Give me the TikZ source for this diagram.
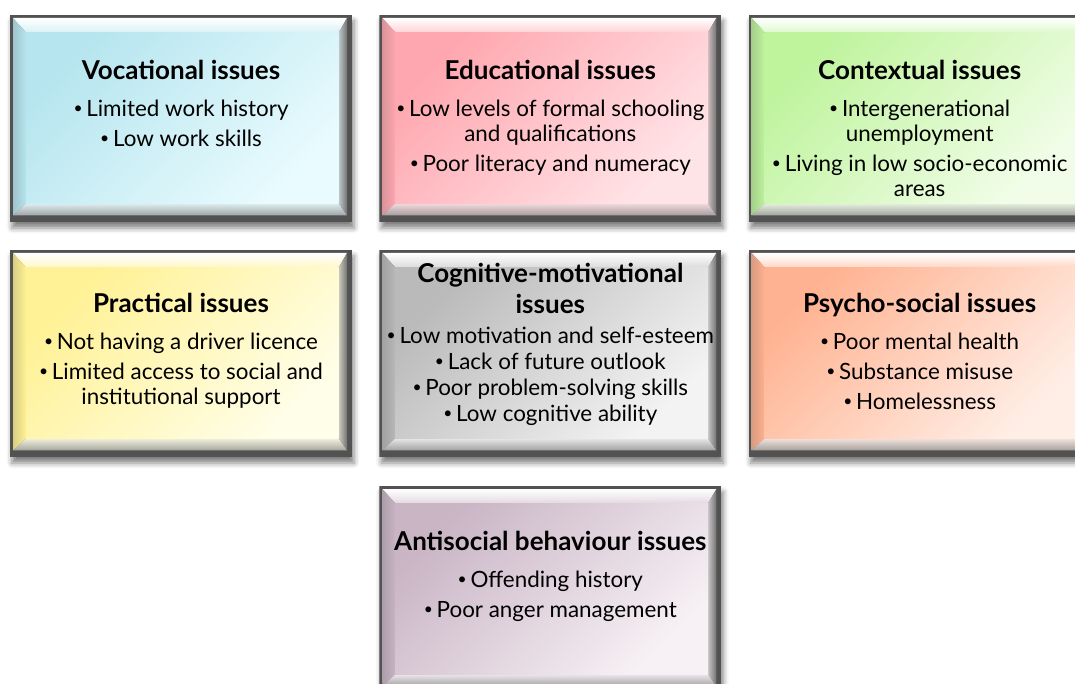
\documentclass[tikz,border=0pt]{standalone}
\usepackage{fontspec}
\usepackage{graphicx}
\setmainfont{Lato}
\usetikzlibrary{positioning, calc, shadows.blur}

% face colours: top-left (A) and bottom-right (B)
\definecolor{vocA}{HTML}{ADE1EC}
\definecolor{vocB}{HTML}{E9FBFE}
\definecolor{eduA}{HTML}{FF9CA6}
\definecolor{eduB}{HTML}{FFE4E7}
\definecolor{conA}{HTML}{B6F290}
\definecolor{conB}{HTML}{F1FDE8}
\definecolor{praA}{HTML}{FFEF86}
\definecolor{praB}{HTML}{FFFEE8}
\definecolor{cogA}{HTML}{B0B0B0}
\definecolor{cogB}{HTML}{F3F3F3}
\definecolor{psyA}{HTML}{FFA882}
\definecolor{psyB}{HTML}{FFEEE6}
\definecolor{antA}{HTML}{C2ABBD}
\definecolor{antB}{HTML}{F7F1F5}

\newcommand{\issuehead}[1]{{\fontsize{19.5}{22}\selectfont\bfseries #1}}
\newcommand{\issuebullet}{\raisebox{0.2ex}{\scalebox{0.7}{•}}\,}

% bevelled face drawn inside the node
\newcommand{\bevelface}[2]{%
  \path (path picture bounding box.south west) coordinate (bsw)
        (path picture bounding box.south east) coordinate (bse)
        (path picture bounding box.north west) coordinate (bnw)
        (path picture bounding box.north east) coordinate (bne);
  \coordinate (oNW) at ($(bnw)+(2.25pt,-2.25pt)$);
  \coordinate (oNE) at ($(bne)+(-3.75pt,-2.25pt)$);
  \coordinate (oSE) at ($(bse)+(-3.75pt,5pt)$);
  \coordinate (oSW) at ($(bsw)+(2.25pt,5pt)$);
  \coordinate (iNW) at ($(bnw)+(12pt,-13pt)$);
  \coordinate (iNE) at ($(bne)+(-10pt,-13pt)$);
  \coordinate (iSE) at ($(bse)+(-10pt,14pt)$);
  \coordinate (iSW) at ($(bsw)+(12pt,14pt)$);
  \fill[black!68] (bsw) rectangle (bne); % frame
  \shade[top color=white, bottom color=#1!45!white]
    (oNW) -- (oNE) -- (iNE) -- (iNW) -- cycle; % top
  \shade[left color=#1!70!gray, right color=#1!90!white]
    (oNW) -- (iNW) -- (iSW) -- (oSW) -- cycle; % left
  \shade[top color=#2!90!gray, bottom color=#2!30!gray]
    (oSW) -- (oSE) -- (iSE) -- (iSW) -- cycle; % bottom
  \shade[left color=#2!60!gray, right color=black!55]
    (oNE) -- (iNE) -- (iSE) -- (oSE) -- cycle; % right
  \shade[top color=#1!85!#2, bottom color=#2, shading angle=45]
    (iSW) rectangle (iNE); % face
}

\tikzset{
  issue/.style 2 args={minimum width=256.5pt, minimum height=155.25pt,
    inner sep=0pt, outer sep=0pt,
    blur shadow={shadow xshift=1.5pt, shadow yshift=-4.5pt,
      shadow blur radius=4pt, shadow opacity=50},
    path picture={\bevelface{#1}{#2}}}, % bevelled box
  issuetext/.style={align=center, inner sep=0pt,
    font=\fontsize{16.8}{18.75}\selectfont}, % text in a box
  node distance=20.5pt,
}

\begin{document}
\begin{tikzpicture}[x=0.75pt, y=-0.75pt]
  \useasboundingbox (0,0) rectangle (1075,684);
  \clip (0,0) rectangle (1075,684);

  % boxes
  \node[issue={vocA}{vocB}] (voc) at (181,118.5) {};
  \node[issue={eduA}{eduB}, right=of voc] (edu) {};
  \node[issue={conA}{conB}, right=of edu] (con) {};
  \node[issue={praA}{praB}, below=21pt of voc] (pra) {};
  \node[issue={cogA}{cogB}, right=of pra] (cog) {};
  \node[issue={psyA}{psyB}, right=of cog] (psy) {};
  \node[issue={antA}{antB}, below=21.75pt of cog] (ant) {};

  % texts
  \node[issuetext, below=33.5pt of voc.north] (voctext)
    {\issuehead{Vocational issues}\\[9pt]
     \issuebullet Limited work history\\[3.75pt]
     \issuebullet Low work skills};
  \node[issuetext, below=33.5pt of edu.north] (edutext)
    {\issuehead{Educational issues}\\[9pt]
     \issuebullet Low levels of formal schooling\\
     and qualifications\\[3.75pt]
     \issuebullet Poor literacy and numeracy};
  \node[issuetext, below=33.5pt of con.north] (context)
    {\issuehead{Contextual issues}\\[9pt]
     \issuebullet Intergenerational\\
     unemployment\\[3.75pt]
     \issuebullet Living in low socio-economic\\
     areas};
  \node[issuetext, below=32pt of pra.north] (pratext)
    {\issuehead{Practical issues}\\[9pt]
     \issuebullet Not having a driver licence\\[3.75pt]
     \issuebullet Limited access to social and\\
     institutional support};
  \node[issuetext, below=9.5pt of cog.north] (cogtext)
    {\issuehead{Cognitive-motivational}\\[4.5pt]
     \issuehead{issues}\\[3.75pt]
     \issuebullet Low motivation and self-esteem\\[0.75pt]
     \issuebullet Lack of future outlook\\[0.75pt]
     \issuebullet Poor problem-solving skills\\[0.75pt]
     \issuebullet Low cognitive ability};
  \node[issuetext, below=32pt of psy.north] (psytext)
    {\issuehead{Psycho-social issues}\\[9pt]
     \issuebullet Poor mental health\\[3.75pt]
     \issuebullet Substance misuse\\[3.75pt]
     \issuebullet Homelessness};
  \node[issuetext, below=33.5pt of ant.north] (anttext)
    {\issuehead{Antisocial behaviour issues}\\[9pt]
     \issuebullet Offending history\\[3.75pt]
     \issuebullet Poor anger management};
\end{tikzpicture}
\end{document}
